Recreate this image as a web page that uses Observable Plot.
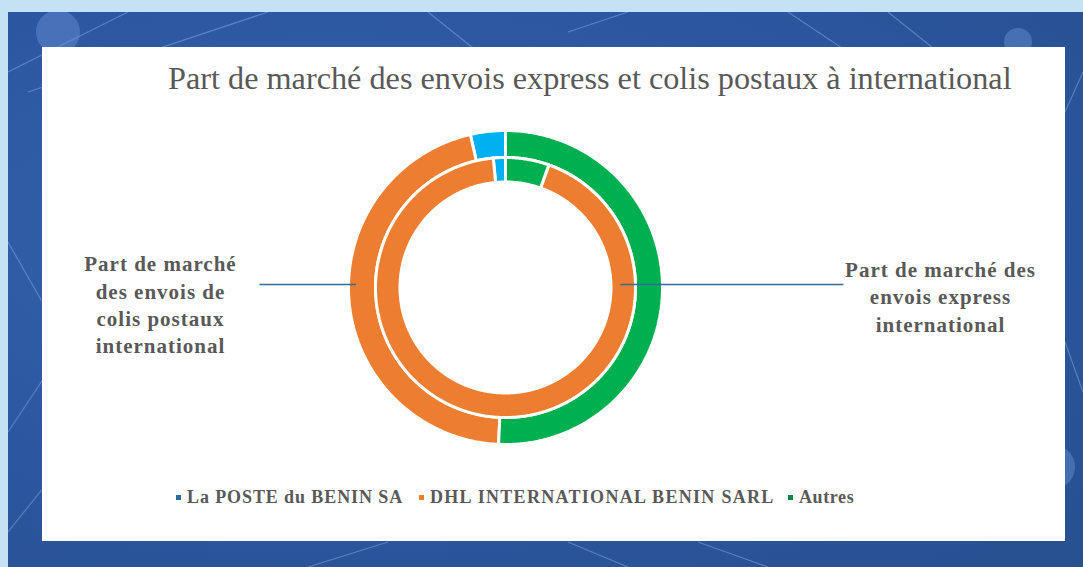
<!DOCTYPE html>
<html><head><meta charset="utf-8">
<script src="https://cdn.jsdelivr.net/npm/d3@7"></script>
<script src="https://cdn.jsdelivr.net/npm/@observablehq/plot@0.6"></script>
<style>
html,body{margin:0;padding:0;width:1083px;height:567px;overflow:hidden;background:#c5e2f5;}
#bg{position:absolute;left:8px;top:12px;width:1075px;height:555px;background:radial-gradient(ellipse at 30% 40%,#3562ab 0%,#2c56a0 55%,#27508f 100%);overflow:hidden}
#bg svg{position:absolute;left:0;top:0}
#card{position:absolute;left:42px;top:47px;width:1023px;height:494px;background:#fff;}
#title{position:absolute;left:126px;top:14px;font-family:"Liberation Serif","Times New Roman",serif;font-size:29px;line-height:34px;color:#595959;white-space:nowrap}
#chart{position:absolute;left:0;top:53px}
#chart text{letter-spacing:1px}
#legend{position:absolute;left:0;top:439px;width:1023px;height:22px;font-family:"Liberation Serif","Times New Roman",serif;font-weight:bold;font-size:18px;letter-spacing:0.9px;color:#595959;white-space:nowrap}
#legend .item{position:absolute;top:0;line-height:22px}
#legend .sw{position:absolute;width:5px;height:5px;top:9px}
</style></head>
<body>
<div id="bg">
<svg width="1075" height="555">
  <g stroke="#8fb6ea" stroke-opacity="0.45" stroke-width="1.2" fill="none">
    <line x1="0" y1="60" x2="120" y2="0"/><line x1="20" y1="80" x2="260" y2="0"/>
    <line x1="0" y1="230" x2="40" y2="300"/><line x1="0" y1="420" x2="40" y2="360"/>
    <line x1="0" y1="520" x2="40" y2="470"/><line x1="300" y1="555" x2="380" y2="530"/>
    <line x1="560" y1="530" x2="620" y2="555"/><line x1="690" y1="530" x2="760" y2="555"/>
    <line x1="780" y1="0" x2="840" y2="40"/><line x1="880" y1="0" x2="930" y2="40"/>
    <line x1="1057" y1="100" x2="1075" y2="60"/><line x1="1057" y1="330" x2="1075" y2="380"/>
    <line x1="420" y1="0" x2="470" y2="40"/><line x1="560" y1="20" x2="620" y2="0"/>
  </g>
  <g fill="#6a93d6" fill-opacity="0.45">
    <circle cx="50" cy="20" r="22"/><circle cx="1045" cy="455" r="22"/><circle cx="1010" cy="30" r="14"/>
  </g>
</svg>
</div>
<div id="card">
  <div id="title">Part de marché des envois express et colis postaux à international</div>
  <div id="chart"></div>
  <div id="legend"></div>
</div>
<script>
// ---- data ----
const series = ["La POSTE du BENIN SA", "DHL INTERNATIONAL BENIN SARL", "Autres"];
const seriesColors = ["#00b0f0", "#ed7d31", "#00b050"];
const legendColors = ["#2a6ca0", "#ed7d31", "#12853f"];
const colisValues = [3.6, 45.7, 50.7];     // outer ring: colis postaux international (%)
const expressValues = [1.5, 93.1, 5.4];    // inner ring: envois express international (%)
const ringLabels = ["Part de marché\ndes envois de\ncolis postaux\ninternational",
                    "Part de marché des\nenvois express\ninternational"];

// ---- geometry (layout) ----
const W = 1023, H = 370, cx = 463, cy = 187;
const rings = [
  {name: "colis", values: colisValues, r0: 130, r1: 157},
  {name: "express", values: expressValues, r0: 105.5, r1: 130}
];
const pts = [];
for (const ring of rings) {
  const total = d3.sum(ring.values);
  let acc = 0;
  ring.values.forEach((v, i) => {
    // slices run counter-clockwise from 12 o'clock
    const a0 = -acc / total * 2 * Math.PI;
    acc += v;
    const a1 = -acc / total * 2 * Math.PI;
    const n = Math.max(2, Math.ceil(Math.abs(a1 - a0) / (Math.PI / 360)));
    const id = ring.name + "-" + i;
    const poly = [];
    for (let k = 0; k <= n; k++) { const a = a0 + (a1 - a0) * k / n; poly.push([ring.r1 * Math.sin(a), -ring.r1 * Math.cos(a)]); }
    for (let k = n; k >= 0; k--) { const a = a0 + (a1 - a0) * k / n; poly.push([ring.r0 * Math.sin(a), -ring.r0 * Math.cos(a)]); }
    poly.push(poly[0]);
    for (const [x, y] of poly) pts.push({id, series: series[i], x, y});
  });
}
const rMidOuter = (rings[0].r0 + rings[0].r1) / 2, rMidInner = (rings[1].r0 + rings[1].r1) / 2;
const leaders = [
  {x1: -246, x2: -rMidOuter - 6, y: -3},
  {x1: 338, x2: rMidInner - 3, y: -3}
];
const labels = [
  {x: -345, y: 16, text: ringLabels[0]},
  {x: 435, y: 8, text: ringLabels[1]}
];

const chart = Plot.plot({
  width: W, height: H,
  margin: 0,
  x: {domain: [-cx, W - cx], range: [0, W], axis: null},
  y: {domain: [-cy, H - cy], range: [0, H], axis: null},
  color: {domain: series, range: seriesColors},
  style: {background: "transparent", overflow: "visible"},
  marks: [
    Plot.line(pts, {x: "x", y: "y", z: "id", fill: "series", stroke: "white", strokeWidth: 3, strokeLinejoin: "miter"}),
    Plot.link(leaders, {x1: "x1", x2: "x2", y1: "y", y2: "y", stroke: "#2f6e99", strokeWidth: 1.6}),
    Plot.text(labels, {x: "x", y: "y", text: "text", textAnchor: "middle", lineAnchor: "middle", lineHeight: 1.3,
      fontSize: 21, fontWeight: "bold", fill: "#595959", fontFamily: "Liberation Serif"})
  ]
});
document.getElementById("chart").appendChild(chart);

// legend (positions in card coordinates)
const legendX = [134, 377, 746];
const legendSpacing = [0.9, 1.3, 0.6];
const lg = document.getElementById("legend");
series.forEach((s, i) => {
  const sw = document.createElement("span"); sw.className = "sw"; sw.style.background = legendColors[i];
  sw.style.left = legendX[i] + "px"; lg.appendChild(sw);
  const it = document.createElement("span"); it.className = "item"; it.textContent = s;
  it.style.letterSpacing = legendSpacing[i] + "px";
  it.style.left = (legendX[i] + 11) + "px"; lg.appendChild(it);
});

// fit title to its width in the reference
const t = document.getElementById("title");
const w = t.getBoundingClientRect().width;
t.style.fontSize = (29 * 844 / w).toFixed(2) + "px";
</script>
</body></html>
